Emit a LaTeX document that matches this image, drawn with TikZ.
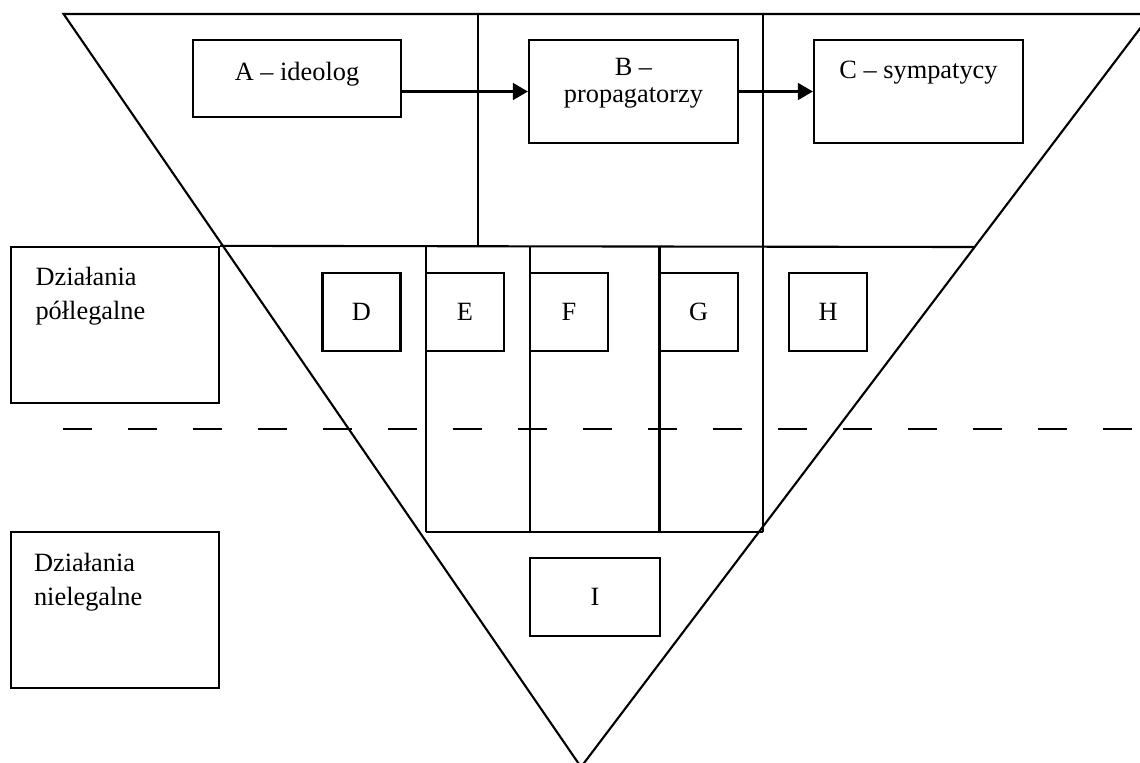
\documentclass[tikz,border=0pt]{standalone}
\usepackage{fontspec}
\setmainfont{Liberation Serif}
\usetikzlibrary{arrows.meta}

\tikzset{
    box/.style 2 args={draw, line width=1.3pt, minimum width=#1*0.02cm, minimum height=#2*0.02cm, inner sep=0pt},
    letterbox/.style={box={78}{78}},
    boxtext/.style={inner sep=0pt},
    flow/.style={-{Triangle[length=8.5pt,width=9.5pt]}, line width=1.5pt}
}

\begin{document}
\begin{tikzpicture}[x=0.02cm, y=-0.02cm, line width=1.2pt, font=\fontsize{15}{19.3}\selectfont]
    \useasboundingbox (0,0) rectangle (1140,762);

    \draw (63.6,14) -- (1151,14) -- (581,767) -- cycle;

    \node [box={208}{77}] (A) at (297,78.5) {};
    \node [box={209}{103}] (B) at (633.5,91.5) {};
    \node [box={209}{103}] (C) at (918.5,91.5) {};
    \node [boxtext, anchor=base] (Atext) at (297,80) {A -- ideolog};
    \node [boxtext, anchor=north, align=center, font=\fontsize{15}{15.2}\selectfont] (Btext) at (633.5,57.5) {B --\\propagatorzy};
    \node [boxtext, anchor=base] (Ctext) at (918.5,78) {C -- sympatycy};

    \node [box={208}{156}] (polleg) at (115,325) {};
    \node [box={208}{156}] (nieleg) at (115,610) {};
    \node [boxtext, anchor=north west, align=left] (pollegtext) at (34.5,266) {Działania\\półlegalne};
    \node [boxtext, anchor=north west, align=left] (nielegtext) at (33,552) {Działania\\nielegalne};

    \draw (478,14) -- (478,247);
    \draw (762.7,14) -- (762.7,532);
    \draw (polleg.north east) -- (974,247);
    \foreach \x in {426,530,659.5}
        \draw (\x,247) -- (\x,532);
    \draw (426,532) -- (762.7,532);

    \foreach \name/\x in {D/361.5, E/465, F/569, G/698.75, H/828.25}
        \node [letterbox] (\name) at (\x,312) {\name};
    \node [box={130}{78}] (I) at (595,597) {I};

    \draw [dash pattern=on 16.5pt off 20.5pt] (62.7,429) -- (1135,429);

    \draw [flow] (A.east |- B.west) -- (B.west);
    \draw [flow] (B.east) -- (C.west);
\end{tikzpicture}
\end{document}
